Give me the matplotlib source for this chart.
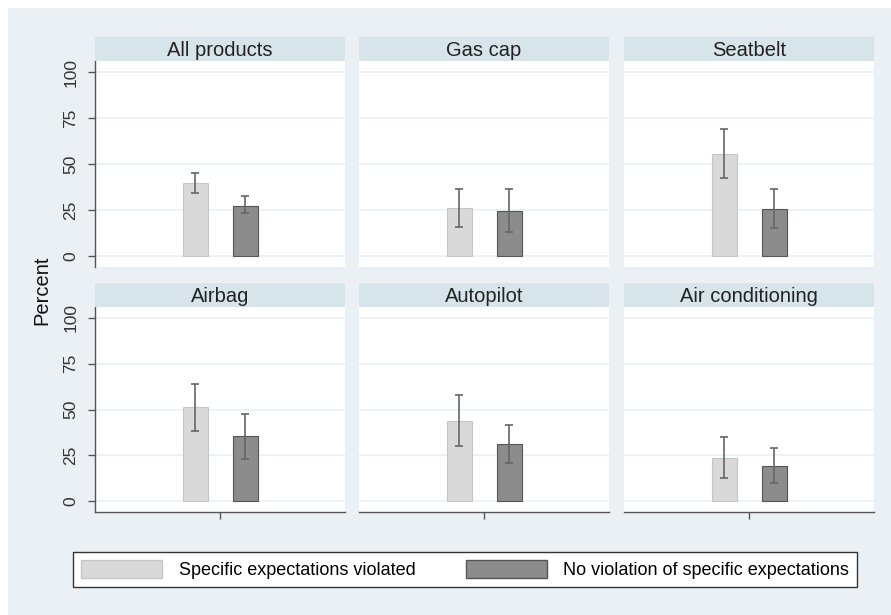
import numpy as np
import matplotlib
matplotlib.use("Agg")
import matplotlib.pyplot as plt
from matplotlib.patches import Patch, Rectangle

plt.rcParams['font.family'] = ['Liberation Sans', 'DejaVu Sans']

products = ['All products', 'Gas cap', 'Seatbelt', 'Airbag', 'Autopilot', 'Air conditioning']
series = ['Specific expectations violated', 'No violation of specific expectations']

# percent, lower CI, upper CI
viol = [39.5, 25.9, 55.6, 51.3, 43.7, 23.6]
viol_lo = [34.4, 15.6, 42.6, 38.4, 29.9, 12.7]
viol_hi = [45.3, 36.6, 68.9, 63.8, 58.0, 35.0]
noviol = [27.3, 24.6, 25.7, 35.5, 31.2, 19.2]
noviol_lo = [23.2, 13.0, 15.0, 23.2, 20.5, 9.6]
noviol_hi = [32.6, 36.4, 36.4, 47.6, 41.8, 29.2]

bg = '#eaf0f3'
strip_col = '#d7e4ea'
light = '#d9d9d9'
dark = '#8c8c8c'

W, H = 891, 615
fig = plt.figure(figsize=(W / 100, H / 100), dpi=100)
fig.patch.set_facecolor('white')
fig.patches.append(Rectangle((8 / W, 0), 1, 1 - 8 / H, transform=fig.transFigure,
                             facecolor=bg, edgecolor='none', zorder=-10))

col_x = [95, 359, 624]
col_w = 250
row_top = [61, 307]
row_h = [206, 205]
strip_h = 24

for i, name in enumerate(products):
    r, c = divmod(i, 3)
    x0 = col_x[c] / W
    w = col_w / W
    y0 = (H - row_top[r] - row_h[r]) / H
    h = row_h[r] / H
    ax = fig.add_axes([x0, y0, w, h])
    ax.set_facecolor('white')

    # strip title
    sax = fig.add_axes([x0, (H - row_top[r]) / H, w, strip_h / H])
    sax.set_facecolor(strip_col)
    for s in sax.spines.values():
        s.set_visible(False)
    sax.set_xticks([])
    sax.set_yticks([])
    sax.text(0.5, 0.45, name, ha='center', va='center', fontsize=14.5, color='#222222')

    vals = [viol[i], noviol[i]]
    lo = [viol[i] - viol_lo[i], noviol[i] - noviol_lo[i]]
    hi = [viol_hi[i] - viol[i], noviol_hi[i] - noviol[i]]
    ax.bar([0], [vals[0]], width=0.5, color=light, edgecolor='#c6c6c6', linewidth=0.8, zorder=3)
    ax.bar([1], [vals[1]], width=0.5, color=dark, edgecolor='#555555', linewidth=0.8, zorder=3)
    ax.errorbar([0, 1], vals, yerr=[lo, hi], fmt='none', ecolor='#666666',
                elinewidth=1.2, capsize=3, capthick=1.2, zorder=4)

    ax.set_xlim(-2, 3)
    ax.set_ylim(-6, 106)
    ax.set_yticks([0, 25, 50, 75, 100])
    ax.grid(axis='y', color=bg, linewidth=1.2, zorder=0)
    ax.set_axisbelow(True)

    for s in ['top', 'right']:
        ax.spines[s].set_visible(False)

    if c == 0:
        ax.spines['left'].set_color('#555555')
        ax.spines['left'].set_linewidth(1.0)
        ax.tick_params(axis='y', length=5, width=1, color='#555555', pad=7,
                       labelsize=12.5, labelcolor='#333333', labelrotation=90)
        for lab in ax.get_yticklabels():
            lab.set_va('center')
    else:
        ax.spines['left'].set_visible(False)
        ax.tick_params(axis='y', length=0, labelleft=False)

    if r == 1:
        ax.spines['bottom'].set_color('#555555')
        ax.spines['bottom'].set_linewidth(1.0)
        ax.set_xticks([0.5])
        ax.set_xticklabels([''])
        ax.tick_params(axis='x', length=5, width=1, color='#555555')
    else:
        ax.spines['bottom'].set_visible(False)
        ax.set_xticks([])

fig.text(42 / W, 1 - 290 / H, 'Percent', rotation=90, ha='center', va='center',
         fontsize=14.5, color='#111111')

handles = [Patch(facecolor=light, edgecolor='#c6c6c6', label=series[0]),
           Patch(facecolor=dark, edgecolor='#555555', label=series[1])]
leg = fig.legend(handles=handles, loc='center', ncol=2, mode='expand',
                 bbox_to_anchor=(73 / W, (H - 588) / H, 784 / W, 37 / H), fontsize=13,
                 frameon=True, fancybox=False, handlelength=4.5, handleheight=1.17,
                 handletextpad=0.9, columnspacing=2.0, borderpad=0.45,
                 borderaxespad=0)
leg.get_frame().set_edgecolor('#333333')
leg.get_frame().set_linewidth(1.0)
leg.get_frame().set_facecolor('white')
leg.get_frame().set_alpha(1)

fig.savefig('out.png', dpi=100, facecolor=fig.get_facecolor())
